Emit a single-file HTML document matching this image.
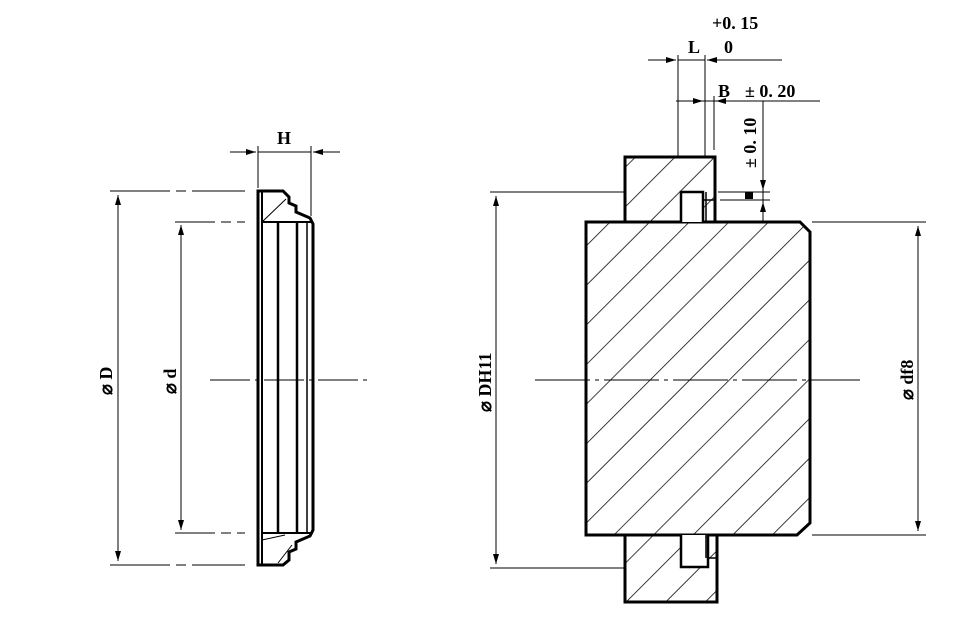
<!DOCTYPE html>
<html><head><meta charset="utf-8"><style>html,body{margin:0;padding:0;background:#fff}svg{display:block}</style></head>
<body>
<svg width="980" height="627" viewBox="0 0 980 627" xmlns="http://www.w3.org/2000/svg">
<defs>
<marker id="a" viewBox="0 0 10 6" refX="10" refY="3" markerWidth="10" markerHeight="6" orient="auto-start-reverse" markerUnits="userSpaceOnUse"><path d="M0,0 L10,3 L0,6z" fill="#000"/></marker>
<pattern id="h" patternUnits="userSpaceOnUse" width="28" height="28" patternTransform="rotate(45)"><line x1="0" y1="0" x2="0" y2="28" stroke="#000" stroke-width="1.5"/></pattern>
</defs>
<g fill="none" stroke="#000">
<!-- LEFT PIECE -->
<path d="M258,191 L283,191 L289,197 L289,203 L296,206 L296,212 L310,218 L313,224 L313,530 L310,536 L296,542 L296,549 L289,552 L289,560 L283,565 L258,565 Z" stroke-width="3"/>
<line x1="262" y1="222" x2="313" y2="222" stroke-width="2"/>
<line x1="262" y1="533" x2="313" y2="533" stroke-width="2"/>
<line x1="262" y1="191" x2="262" y2="565" stroke-width="2"/>
<line x1="278" y1="222" x2="278" y2="533" stroke-width="2.5"/>
<line x1="297" y1="222" x2="297" y2="533" stroke-width="2.5"/>
<line x1="307" y1="222" x2="307" y2="533" stroke-width="1.5"/>
<line x1="262" y1="222" x2="286" y2="199" stroke-width="1"/>
<line x1="278" y1="563" x2="292" y2="545" stroke-width="1"/>
<line x1="262" y1="540" x2="285" y2="535" stroke-width="1"/>
<!-- left dims -->
<line x1="210" y1="380" x2="372" y2="380" stroke-width="1" stroke-dasharray="40,5,4,5"/>
<line x1="110" y1="191" x2="245" y2="191" stroke-width="1" stroke-dasharray="60,6,10,6"/>
<line x1="110" y1="565" x2="245" y2="565" stroke-width="1" stroke-dasharray="60,6,10,6"/>
<line x1="118" y1="195" x2="118" y2="561" stroke-width="1" marker-start="url(#a)" marker-end="url(#a)"/>
<line x1="175" y1="222" x2="245" y2="222" stroke-width="1" stroke-dasharray="40,6,10,6"/>
<line x1="175" y1="533" x2="245" y2="533" stroke-width="1" stroke-dasharray="40,6,10,6"/>
<line x1="181" y1="225" x2="181" y2="530" stroke-width="1" marker-start="url(#a)" marker-end="url(#a)"/>
<line x1="258" y1="146" x2="258" y2="188" stroke-width="1"/>
<line x1="311" y1="146" x2="311" y2="216" stroke-width="1"/>
<line x1="230" y1="152" x2="256" y2="152" stroke-width="1" marker-end="url(#a)"/>
<line x1="340" y1="152" x2="313" y2="152" stroke-width="1" marker-end="url(#a)"/>
<line x1="258" y1="152" x2="311" y2="152" stroke-width="1"/>
<!-- RIGHT PIECE -->
<path d="M586,222 L800,222 L810,232 L810,523 L797,535 L586,535Z" fill="url(#h)" stroke="none"/>
<path d="M586,222 L800,222 L810,232 L810,523 L797,535 L586,535Z" stroke-width="3"/>
<path d="M625,157 L715,157 L715,222 L625,222Z" fill="url(#h)" stroke="none"/>
<path d="M625,535 L717,535 L717,602 L625,602Z" fill="url(#h)" stroke="none"/>
<rect x="681" y="192" width="22" height="30" fill="#fff" stroke="none"/>
<rect x="681" y="535" width="27" height="32" fill="#fff" stroke="none"/>
<path d="M625,222 L625,157 L715,157 L715,222" stroke-width="3"/>
<path d="M681,222 L681,192 L703,192 L703,222" stroke-width="2.5"/>
<line x1="706" y1="192" x2="706" y2="222" stroke-width="1.5"/>
<line x1="703" y1="200" x2="715" y2="200" stroke-width="1.5"/>
<path d="M625,535 L625,602 L717,602 L717,535" stroke-width="3"/>
<path d="M681,535 L681,567 L708,567 L708,535" stroke-width="2.5"/>
<line x1="709" y1="558" x2="717" y2="558" stroke-width="1.5"/>
<line x1="706" y1="535" x2="706" y2="558" stroke-width="1.5"/>
<!-- right dims -->
<line x1="535" y1="380" x2="860" y2="380" stroke-width="1" stroke-dasharray="55,5,4,5"/>
<line x1="490" y1="192" x2="625" y2="192" stroke-width="1"/>
<line x1="490" y1="568" x2="625" y2="568" stroke-width="1"/>
<line x1="496" y1="196" x2="496" y2="564" stroke-width="1" marker-start="url(#a)" marker-end="url(#a)"/>
<line x1="812" y1="222" x2="926" y2="222" stroke-width="1"/>
<line x1="812" y1="535" x2="926" y2="535" stroke-width="1"/>
<line x1="918" y1="226" x2="918" y2="531" stroke-width="1" marker-start="url(#a)" marker-end="url(#a)"/>
<line x1="678" y1="55" x2="678" y2="157" stroke-width="1"/>
<line x1="705" y1="55" x2="705" y2="157" stroke-width="1"/>
<line x1="648" y1="60" x2="676" y2="60" stroke-width="1" marker-end="url(#a)"/>
<line x1="782" y1="60" x2="707" y2="60" stroke-width="1" marker-end="url(#a)"/>
<line x1="678" y1="60" x2="705" y2="60" stroke-width="1"/>
<line x1="714" y1="96" x2="714" y2="150" stroke-width="1"/>
<line x1="676" y1="101" x2="820" y2="101" stroke-width="1"/>
<line x1="690" y1="101" x2="703" y2="101" stroke-width="1" marker-end="url(#a)"/>
<line x1="730" y1="101" x2="716" y2="101" stroke-width="1" marker-end="url(#a)"/>
<line x1="763" y1="101" x2="763" y2="222" stroke-width="1"/>
<line x1="763" y1="175" x2="763" y2="190" stroke-width="1" marker-end="url(#a)"/>
<line x1="763" y1="215" x2="763" y2="202" stroke-width="1" marker-end="url(#a)"/>
<line x1="718" y1="192" x2="770" y2="192" stroke-width="1"/>
<line x1="720" y1="200" x2="770" y2="200" stroke-width="1"/>
<rect x="745" y="192" width="8" height="7" fill="#000" stroke="none"/>
</g>
<g font-family="Liberation Serif, serif" font-weight="bold" font-size="18" fill="#000">
<text x="277" y="144">H</text>
<text x="688" y="53">L</text>
<text x="724" y="53">0</text>
<text x="712" y="29">+0. 15</text>
<text x="718" y="97">B</text>
<text x="745" y="97">± 0. 20</text>
<text transform="translate(756,168) rotate(-90)">± 0. 10</text>
<text transform="translate(112,395) rotate(-90)">⌀ D</text>
<text transform="translate(176,394) rotate(-90)">⌀ d</text>
<text transform="translate(491,412) rotate(-90)">⌀ DH11</text>
<text transform="translate(913,400) rotate(-90)">⌀ df8</text>
</g>
</svg>
</body></html>
